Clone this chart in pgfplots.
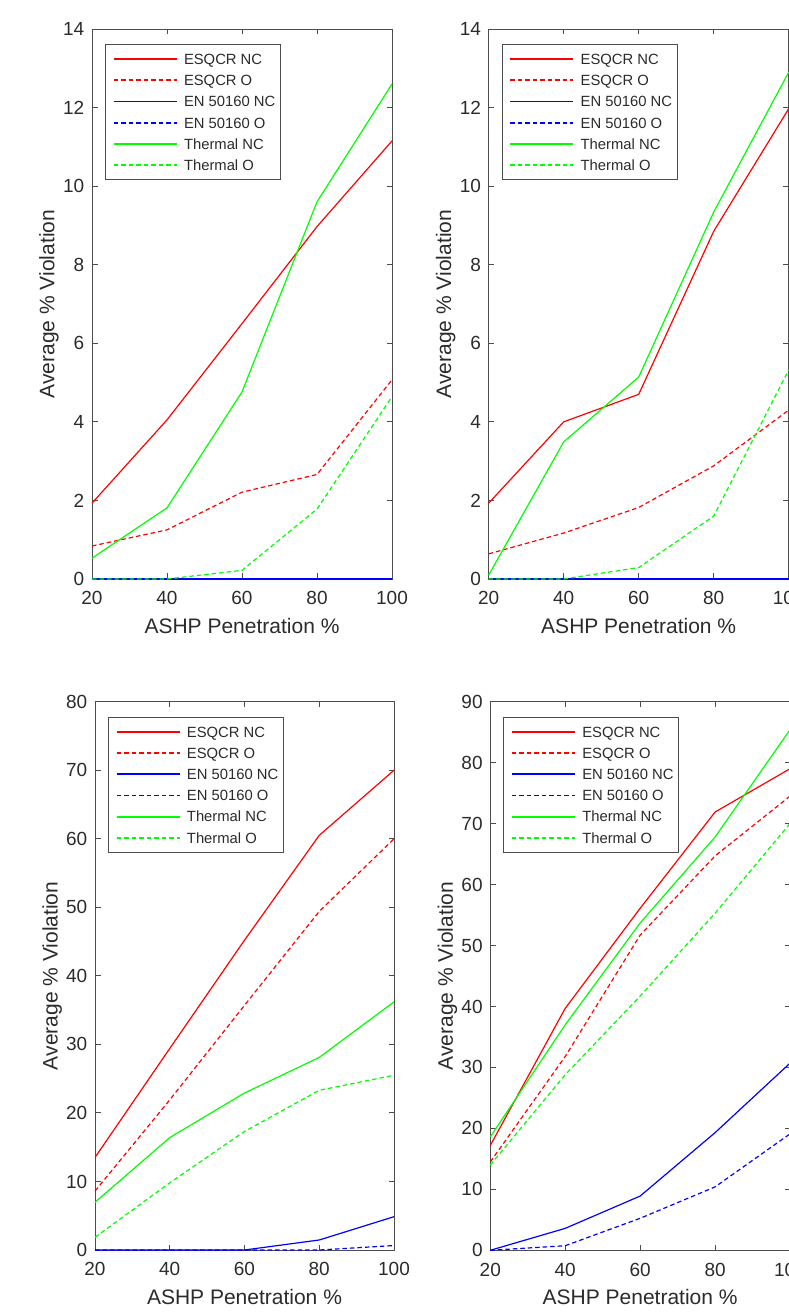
\documentclass[border=0pt]{standalone}
\usepackage{fontspec}
\setmainfont{Liberation Sans}
\usepackage{pgfplots}
\pgfplotsset{compat=1.18}

\definecolor{axgray}{rgb}{0.3,0.3,0.3}
\definecolor{txtgray}{rgb}{0.17,0.17,0.17}
\definecolor{mred}{rgb}{1,0,0}
\definecolor{mgreen}{rgb}{0,1,0}
\definecolor{mblue}{rgb}{0,0,1}

\pgfplotsset{
  panel/.style={
    scale only axis,
    width=300pt, height=550pt,
    anchor=south west,
    xmin=20, xmax=100, ymin=0,
    xtick={20,40,60,80,100},
    tick align=inside,
    xtick pos=both, ytick pos=both,
    xticklabel pos=left, yticklabel pos=left,
    major tick length=5.5pt,
    axis line style={draw=axgray, line width=0.9pt},
    tick style={draw=axgray, line width=0.9pt},
    tick label style={font=\fontsize{19}{22}\selectfont, text=txtgray},
    /pgf/number format/assume math mode=true,
    xticklabel style={inner sep=0pt, anchor=north, yshift=-12.5pt},
    yticklabel style={inner sep=0pt, anchor=east, xshift=-7.5pt},
    label style={font=\fontsize{21}{24}\selectfont, text=txtgray},
    xlabel={ASHP Penetration \%},
    ylabel={Average \% Violation},
    xlabel style={at={(axis description cs:0.5,0)}, anchor=north, inner sep=0pt, yshift=-39pt},
    ylabel style={at={(axis description cs:-0.11,0.5)}, anchor=south, inner sep=0pt},
    clip=false,
    legend style={at={(0.043,0.972)}, anchor=north west, draw=axgray, line width=0.8pt,
      inner xsep=2pt, inner ysep=3.7pt, row sep=0pt,
      font=\fontsize{14.8}{17}\selectfont, text=txtgray,
      nodes={inner xsep=3pt, inner ysep=2pt, text height=14pt, text depth=3.2pt}},
    legend cell align=left,
    legend image code/.code={\path (0pt,0pt) (71.6pt,0pt); \draw[##1] (5.3pt,0pt) -- (68.3pt,0pt);},
  },
  % #1 = line width of the legend sample
  esn/.style={color=mred, line width=1.2pt, solid, legend image post style={draw=mred, line width=#1}},
  eso/.style={color=mred, line width=1.2pt, dash pattern=on 4.5pt off 3pt, legend image post style={draw=mred, line width=#1}},
  enn/.style={color=mblue, line width=1.2pt, solid, legend image post style={draw=mblue, line width=#1}},
  eno/.style={color=mblue, line width=1.2pt, dash pattern=on 4.5pt off 3pt, legend image post style={draw=mblue, line width=#1}},
  thn/.style={color=mgreen, line width=1.2pt, solid, legend image post style={draw=mgreen, line width=#1}},
  tho/.style={color=mgreen, line width=1.2pt, dash pattern=on 4.5pt off 3pt, legend image post style={draw=mgreen, line width=#1}},
  esn/.default=1.65pt, eso/.default=1.65pt, enn/.default=1.65pt,
  eno/.default=1.65pt, thn/.default=1.65pt, tho/.default=1.65pt,
}

\begin{document}
\begin{tikzpicture}

% top left
\begin{axis}[panel, at={(92pt,733pt)}, ymax=14, ytick={0,2,...,14}]
\addplot[esn=2.1pt] coordinates {(20,1.93) (40,4.05) (60,6.5) (80,8.97) (100,11.15)};
\addlegendentry{ESQCR NC}
\addplot[eso=2.1pt] coordinates {(20,0.84) (40,1.25) (60,2.21) (80,2.66) (100,5.07)};
\addlegendentry{ESQCR O}
\addplot[enn] coordinates {(20,0) (40,0) (60,0) (80,0) (100,0)};
\addlegendentry{EN 50160 NC}
\addplot[eno] coordinates {(20,0) (40,0) (60,0) (80,0) (100,0)};
\addlegendentry{EN 50160 O}
\addplot[thn] coordinates {(20,0.53) (40,1.81) (60,4.76) (80,9.6) (100,12.6)};
\addlegendentry{Thermal NC}
\addplot[tho] coordinates {(20,0) (40,0) (60,0.22) (80,1.78) (100,4.64)};
\addlegendentry{Thermal O}
\end{axis}

% top right
\begin{axis}[panel, at={(488.7pt,733pt)}, ymax=14, ytick={0,2,...,14}]
\addplot[esn=2.1pt] coordinates {(20,1.93) (40,4.0) (60,4.7) (80,8.85) (100,11.97)};
\addlegendentry{ESQCR NC}
\addplot[eso=2.1pt] coordinates {(20,0.64) (40,1.17) (60,1.82) (80,2.88) (100,4.3)};
\addlegendentry{ESQCR O}
\addplot[enn] coordinates {(20,0) (40,0) (60,0) (80,0) (100,0)};
\addlegendentry{EN 50160 NC}
\addplot[eno] coordinates {(20,0) (40,0) (60,0) (80,0) (100,0)};
\addlegendentry{EN 50160 O}
\addplot[thn] coordinates {(20,0.1) (40,3.49) (60,5.14) (80,9.34) (100,12.9)};
\addlegendentry{Thermal NC}
\addplot[tho] coordinates {(20,0) (40,0) (60,0.29) (80,1.6) (100,5.32)};
\addlegendentry{Thermal O}
\end{axis}

% bottom left
\begin{axis}[panel, at={(95pt,62pt)}, width=299pt, height=548.3pt, ymax=80, ytick={0,10,...,80}]
\addplot[esn] coordinates {(20,13.5) (40,29.4) (60,45.2) (80,60.5) (100,70.0)};
\addlegendentry{ESQCR NC}
\addplot[eso] coordinates {(20,8.6) (40,21.9) (60,35.7) (80,49.4) (100,60.0)};
\addlegendentry{ESQCR O}
\addplot[enn] coordinates {(20,0) (40,0) (60,0) (80,1.46) (100,4.86)};
\addlegendentry{EN 50160 NC}
\addplot[eno] coordinates {(20,0) (40,0) (60,0) (80,0) (100,0.65)};
\addlegendentry{EN 50160 O}
\addplot[thn=2.1pt] coordinates {(20,6.96) (40,16.4) (60,22.9) (80,28.1) (100,36.2)};
\addlegendentry{Thermal NC}
\addplot[tho=2.1pt] coordinates {(20,1.85) (40,9.8) (60,17.3) (80,23.3) (100,25.5)};
\addlegendentry{Thermal O}
\end{axis}

% bottom right
\begin{axis}[panel, at={(490.3pt,61.7pt)}, width=299.7pt, height=548.6pt, ymax=90, ytick={0,10,...,90}]
\addplot[esn] coordinates {(20,17.2) (40,39.7) (60,56.1) (80,71.9) (100,79.0)};
\addlegendentry{ESQCR NC}
\addplot[eso] coordinates {(20,14.5) (40,31.8) (60,51.7) (80,64.7) (100,74.5)};
\addlegendentry{ESQCR O}
\addplot[enn] coordinates {(20,0) (40,3.6) (60,8.9) (80,19.3) (100,30.7)};
\addlegendentry{EN 50160 NC}
\addplot[eno] coordinates {(20,0) (40,0.75) (60,5.25) (80,10.4) (100,19.1)};
\addlegendentry{EN 50160 O}
\addplot[thn=2.1pt] coordinates {(20,18.6) (40,37.0) (60,53.7) (80,67.8) (100,85.4)};
\addlegendentry{Thermal NC}
\addplot[tho=2.1pt] coordinates {(20,14.0) (40,28.8) (60,41.7) (80,55.3) (100,70.0)};
\addlegendentry{Thermal O}
\end{axis}

\pgfresetboundingbox
\path[use as bounding box] (0pt,0pt) rectangle (788pt,1312pt);
\end{tikzpicture}
\end{document}
